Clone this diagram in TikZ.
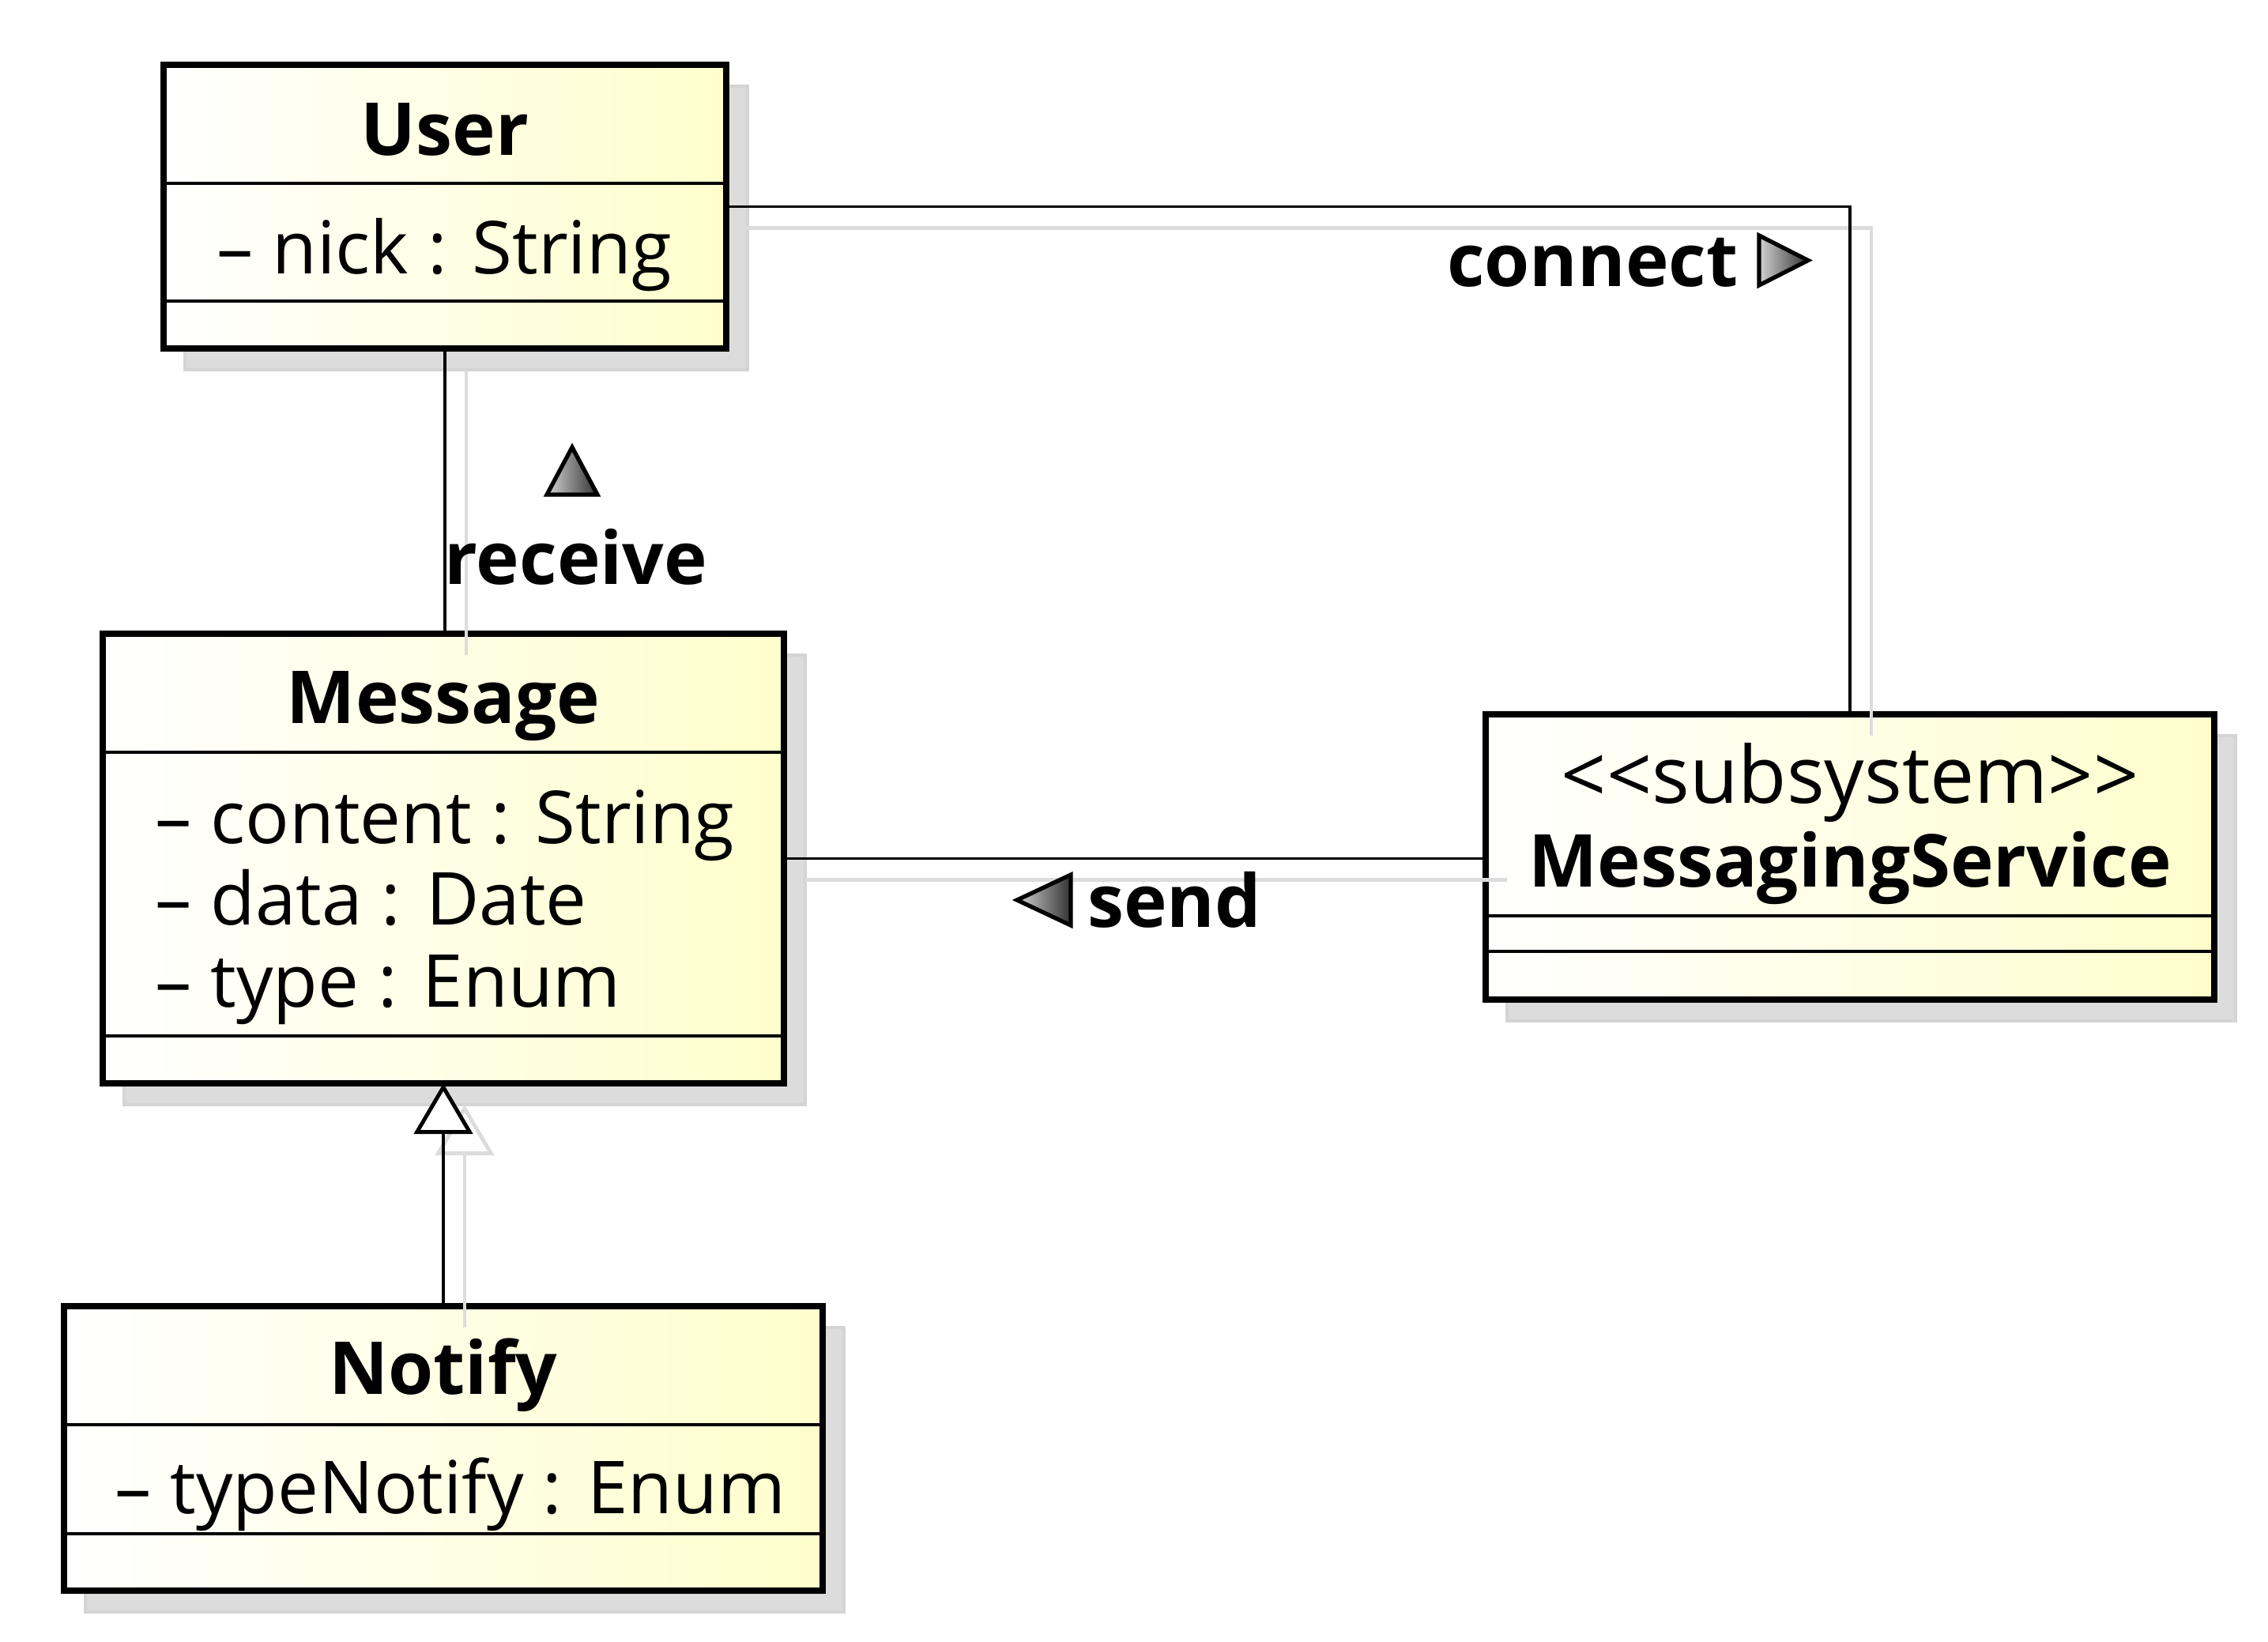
\documentclass[tikz,border=0pt]{standalone}
\usepackage{fontspec}
\setmainfont{Open Sans}
\usepackage{tikz}
\usetikzlibrary{calc,arrows.meta,backgrounds}
\definecolor{classyellow}{RGB}{254,254,204}
\definecolor{shadowgray}{RGB}{220,220,220}
\definecolor{shadowedge}{RGB}{212,212,212}
\newcommand{\umlsize}{\fontsize{26.3}{31}\selectfont}
\newcommand{\boxborder}{2.1pt}
\newcommand{\wirewidth}{1.1pt}
\newcommand{\shadowshift}{0.27cm}

\tikzset{
  classbox/.style={rectangle, draw, line width=\boxborder, left color=white, right color=classyellow, inner sep=0pt, outer sep=0pt},
  sepline/.style={line width=1.1pt},
  boxshadow/.style={fill=shadowgray, draw=shadowedge, line width=1.2pt},
  wire/.style={line width=\wirewidth},
  wireshadow/.style={line width=1.3pt, draw=shadowgray},
  classname/.style={font=\umlsize\bfseries, anchor=base},
  attr/.style={font=\umlsize, anchor=base west},
  assoclabel/.style={font=\umlsize\bfseries, anchor=base},
  marker/.style={draw, line width=1.5pt, line join=miter, left color=gray!35, right color=black!80},
  generalization/.style={-{Triangle[length=0.64cm, width=0.74cm, fill=white, line width=1.4pt]}},
}

\begin{document}
\begin{tikzpicture}
\useasboundingbox (0,0) rectangle (28.70,-20.77);
%classes
\node[classbox, minimum width=7.12cm, minimum height=3.59cm] (user) at (5.63,-2.615) {};
\node[classbox, minimum width=8.62cm, minimum height=5.69cm] (msg) at (5.61,-10.865) {};
\node[classbox, minimum width=9.22cm, minimum height=3.61cm] (service) at (23.41,-10.845) {};
\node[classbox, minimum width=9.60cm, minimum height=3.60cm] (notify) at (5.61,-18.33) {};
%shadows
\begin{scope}[on background layer]
\filldraw[boxshadow] ($(user.south west)+(\shadowshift,-\shadowshift)$) rectangle ($(user.north east)+(\shadowshift,-\shadowshift)$);
\filldraw[boxshadow] ($(msg.south west)+(\shadowshift,-\shadowshift)$) rectangle ($(msg.north east)+(\shadowshift,-\shadowshift)$);
\filldraw[boxshadow] ($(service.south west)+(\shadowshift,-\shadowshift)$) rectangle ($(service.north east)+(\shadowshift,-\shadowshift)$);
\filldraw[boxshadow] ($(notify.south west)+(\shadowshift,-\shadowshift)$) rectangle ($(notify.north east)+(\shadowshift,-\shadowshift)$);
\end{scope}
%compartments
\draw[sepline] (user.west |- 0,-2.32) -- (user.east |- 0,-2.32);
\draw[sepline] (user.west |- 0,-3.81) -- (user.east |- 0,-3.81);
\draw[sepline] (msg.west |- 0,-9.52) -- (msg.east |- 0,-9.52);
\draw[sepline] (msg.west |- 0,-13.11) -- (msg.east |- 0,-13.11);
\draw[sepline] (service.west |- 0,-11.59) -- (service.east |- 0,-11.59);
\draw[sepline] (service.west |- 0,-12.04) -- (service.east |- 0,-12.04);
\draw[sepline] (notify.west |- 0,-18.03) -- (notify.east |- 0,-18.03);
\draw[sepline] (notify.west |- 0,-19.41) -- (notify.east |- 0,-19.41);
%texts
\node[classname] (usertitle) at (5.63,-1.96) {User};
\node[attr] (usernick) at (2.62,-3.46) {\textendash{} nick : String};
\node[classname] (msgtitle) at (5.61,-9.15) {Message};
\node[attr] (msgcontent) at (1.84,-10.67) {\textendash{} content : String};
\node[attr] (msgdata) at (1.84,-11.70) {\textendash{} data : Date};
\node[attr] (msgtype) at (1.84,-12.74) {\textendash{} type : Enum};
\node[font=\fontsize{28.5}{33}\selectfont, anchor=base] (servicestereo) at (23.41,-10.16) {<{}<subsystem>{}>};
\node[classname] (servicetitle) at (23.41,-11.22) {MessagingService};
\node[classname] (notifytitle) at (5.61,-17.64) {Notify};
\node[attr] (notifytype) at (1.33,-19.15) {\textendash{} typeNotify : Enum};
%connector shadows
\begin{scope}[transform canvas={shift={(\shadowshift,-\shadowshift)}}]
\draw[wireshadow] (user.south) -- (user.south |- msg.north);
\draw[wireshadow] ([xshift=-0.22cm]user.east) -| (service.north);
\draw[wireshadow] (msg.east) -- (msg.east -| service.west);
\draw[wireshadow, generalization] (notify.north) -- (notify.north |- msg.south);
\end{scope}
%connectors
\draw[wire] (user.south) -- (user.south |- msg.north);
\draw[wire] (user.east) -| (service.north);
\draw[wire] (msg.east) -- (msg.east -| service.west);
\draw[wire, generalization] (notify.north) -- (notify.north |- msg.south);
%labels
\node[assoclabel] (receive) at (7.29,-7.39) {receive};
\node[assoclabel, anchor=base east] (connect) at (22.12,-3.62) {connect};
\node[assoclabel] (send) at (14.86,-11.73) {send};
\draw[marker] (6.92,-6.26) -- (7.24,-5.66) -- (7.56,-6.26) -- cycle;
\draw[marker] (22.26,-2.98) -- (22.88,-3.295) -- (22.26,-3.61) -- cycle;
\draw[marker] (13.55,-11.07) -- (12.87,-11.39) -- (13.55,-11.71) -- cycle;
\end{tikzpicture}
\end{document}
